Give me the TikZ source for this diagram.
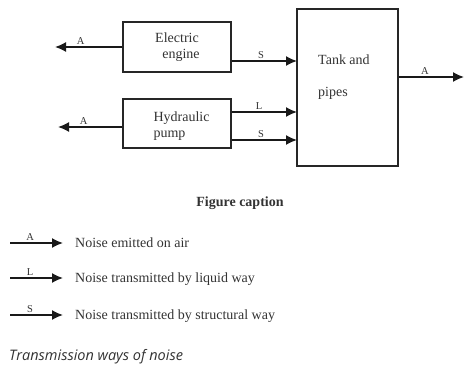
\documentclass[tikz,border=0pt]{standalone}
\usepackage{fontspec}
\setmainfont{Liberation Serif}
\newfontfamily\capfont{Open Sans}
\usetikzlibrary{arrows.meta}
\begin{document}
\begin{tikzpicture}[x=1pt,y=-1pt,
  box/.style={draw=black!85, line width=1.4pt, inner sep=0pt},
  arr/.style={draw=black!90, line width=1.6pt, -{Latex[length=11pt,width=10pt]}},
  lab/.style={font=\fontsize{10.5}{12}\selectfont, text=black!80, inner sep=1pt},
  txt/.style={font=\fontsize{14}{16}\selectfont, text=black!80}]
\useasboundingbox[fill=white] (0,0) rectangle (464,369);
% boxes
\node[box, minimum width=108pt, minimum height=50pt, txt, align=center] (eng) at (177,47) {Electric\\\hspace*{8pt}engine};
\node[box, minimum width=108pt, minimum height=49pt] (pump) at (177,123.5) {};
\node[txt, anchor=west, align=left] (pumptxt) at (150,126) {Hydraulic\\pump};
\node[box, minimum width=101pt, minimum height=157pt] (tank) at (347.5,87.5) {};
\node[txt, anchor=north west, inner sep=0pt] (tank1) at (318,55) {Tank and};
\node[txt, anchor=north west, inner sep=0pt] (tank2) at (318,87) {pipes};
% coordinates
\coordinate (a1) at (55,47);
\coordinate (a2) at (58,127);
\coordinate (t1) at (297,61);
\coordinate (t2) at (297,112);
\coordinate (t3) at (297,140);
\coordinate (t4) at (464,77);
% connectors
\draw[arr] (eng.west) -- (a1) node[lab, pos=0.62, above=1pt] {A};
\draw[arr] (a2 -| pump.west) -- (a2) node[lab, pos=0.6, above=1pt] {A};
\draw[arr] (t1 -| eng.east) -- (t1) node[lab, pos=0.45, above=1pt] {S};
\draw[arr] (t2 -| pump.east) -- (t2) node[lab, pos=0.42, above=1pt] {L};
\draw[arr] (t3 -| pump.east) -- (t3) node[lab, pos=0.45, above=1pt] {S};
\draw[arr] (t4 -| tank.east) -- (t4) node[lab, pos=0.4, above=1pt] {A};
% legend
\node[txt, font=\fontsize{14}{16}\selectfont\bfseries] (figcap) at (240,203) {Figure caption};
\coordinate (l1s) at (10,243); \coordinate (l1e) at (63,243);
\coordinate (l2s) at (10,278); \coordinate (l2e) at (63,278);
\coordinate (l3s) at (10,315); \coordinate (l3e) at (63,315);
\draw[arr] (l1s) -- (l1e) node[lab, pos=0.38, above=1pt] {A};
\draw[arr] (l2s) -- (l2e) node[lab, pos=0.38, above=1pt] {L};
\draw[arr] (l3s) -- (l3e) node[lab, pos=0.38, above=1pt] {S};
\node[txt, anchor=west, inner sep=0pt] (d1) at (75,243) {Noise emitted on air};
\node[txt, anchor=west, inner sep=0pt] (d2) at (75,279) {Noise transmitted by liquid way};
\node[txt, anchor=west, inner sep=0pt] (d3) at (75,316) {Noise transmitted by structural way};
% caption
\node[anchor=west, inner sep=0pt, text=black!80, font=\capfont\itshape\fontsize{14.5}{16}\selectfont] (cap) at (9,357) {Transmission ways of noise};
\end{tikzpicture}
\end{document}
